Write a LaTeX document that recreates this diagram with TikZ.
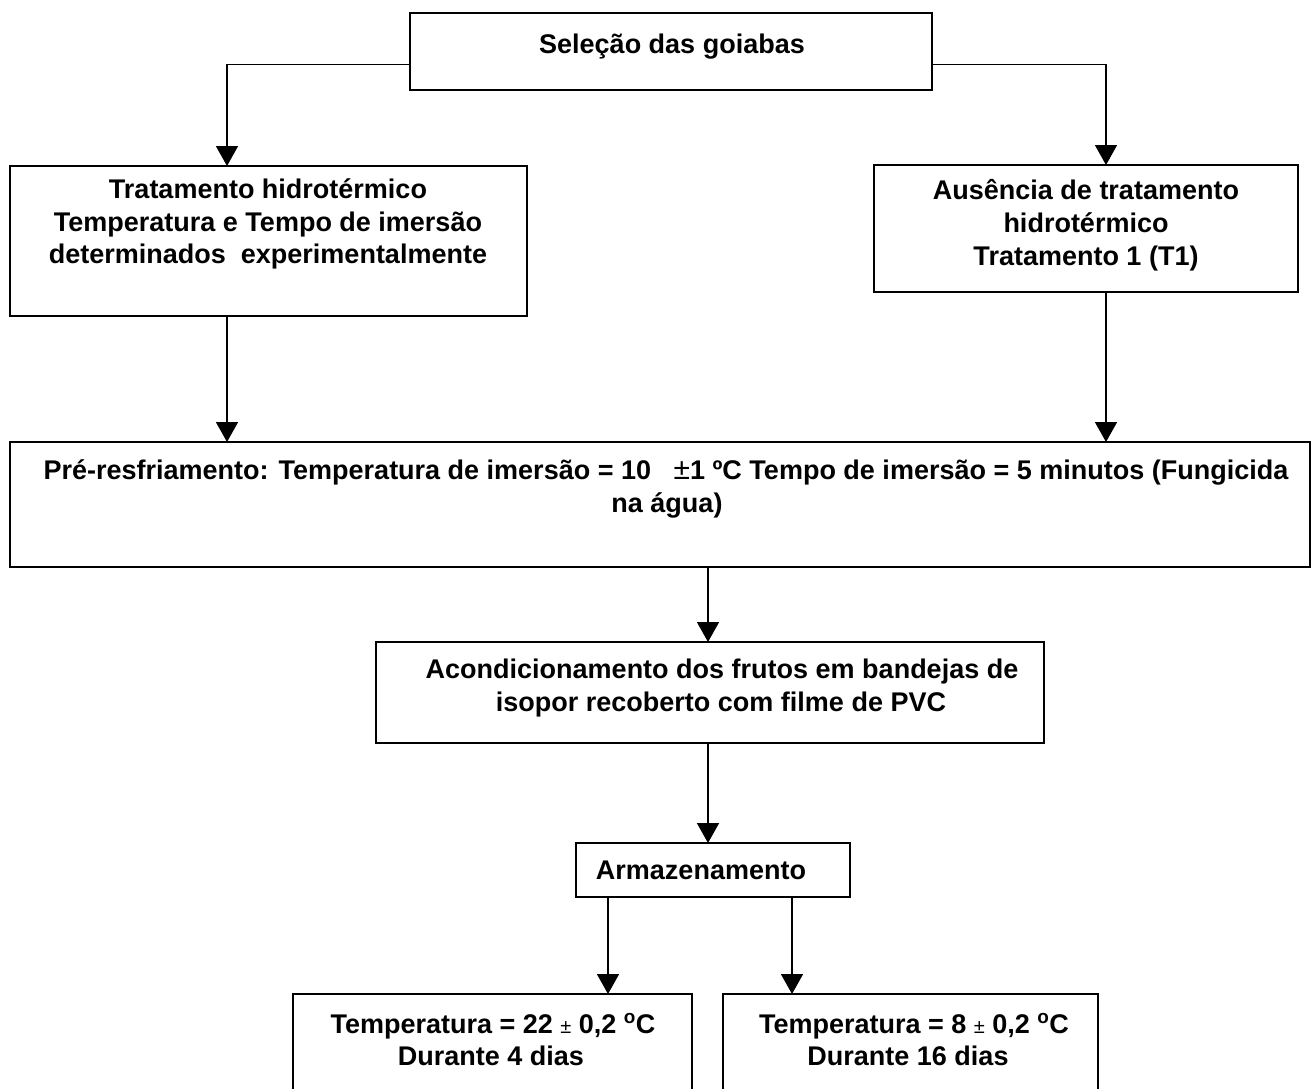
\documentclass[tikz,border=0pt]{standalone}
\usepackage{fontspec}
\setmainfont{Liberation Sans}
\usetikzlibrary{arrows.meta}
\begin{document}
\begin{tikzpicture}[x=1pt,y=-1pt,
  box/.style={draw=black,line width=1.6pt,rectangle,inner sep=0pt,outer sep=0pt,anchor=north west,fill=none},
  txt/.style={anchor=base,inner sep=0pt,font=\fontsize{27pt}{33pt}\selectfont\bfseries},
  arr/.style={line width=1.6pt,-{Triangle[length=20pt,width=22pt]}},
  lnk/.style={line width=1.6pt}]
\fill[white] (0,0) rectangle (1312,1088);
\clip (0,0) rectangle (1312,1088);
\useasboundingbox (0,0) rectangle (1312,1088);
% boxes
\node[box,minimum width=522pt,minimum height=77pt] (sel) at (410,13) {};
\node[box,minimum width=517pt,minimum height=150pt] (trat) at (10,166) {};
\node[box,minimum width=424pt,minimum height=127pt] (aus) at (874,165) {};
\node[box,line width=2.4pt,minimum width=1300pt,minimum height=125pt] (pre) at (10,442) {};
\node[box,minimum width=668pt,minimum height=101pt] (aco) at (376,642) {};
\node[box,minimum width=274pt,minimum height=54pt] (arm) at (576,843) {};
\node[box,minimum width=399pt,minimum height=140pt] (b1) at (293,994) {};
\node[box,minimum width=375pt,minimum height=140pt] (b2) at (723,994) {};
% texts
\node[txt] (tsel) at (672,53) {Seleção das goiabas};
\node[txt] (ttr1) at (268,198) {Tratamento hidrotérmico};
\node[txt] (ttr2) at (268,231) {Temperatura e Tempo de imersão};
\node[txt] (ttr3) at (268,263) {determinados\ \ experimentalmente};
\node[txt] (tau1) at (1086,199) {Ausência de tratamento};
\node[txt] (tau2) at (1086,232) {hidrotérmico};
\node[txt] (tau3) at (1086,265) {Tratamento 1 (T1)};
\node[txt] (tpr1) at (666,479) {Pré-resfriamento: Temperatura de imersão = 10\ \ \ {\mdseries\fontsize{30pt}{33pt}\selectfont ±}1 ºC Tempo de imersão = 5 minutos (Fungicida};
\node[txt] (tpr2) at (667,512) {na água)};
\node[txt] (tac1) at (722,678) {Acondicionamento dos frutos em bandejas de};
\node[txt] (tac2) at (721,711) {isopor recoberto com filme de PVC};
\node[txt] (tarm) at (701,879) {Armazenamento};
\node[txt] (tb11) at (493,1033) {Temperatura = 22 {\mdseries\fontsize{20pt}{20pt}\selectfont ±} 0,2 \textsuperscript{o}C};
\node[txt] (tb12) at (491,1065) {Durante 4 dias};
\node[txt] (tb21) at (914,1033) {Temperatura = 8 {\mdseries\fontsize{20pt}{20pt}\selectfont ±} 0,2 \textsuperscript{o}C};
\node[txt] (tb22) at (908,1065) {Durante 16 dias};
% connectors
\draw[arr] ([yshift=-13pt]sel.west) -| ([xshift=-41.5pt]trat.north);
\draw[arr] ([yshift=-13pt]sel.east) -| ([xshift=20pt]aus.north);
\draw[arr] ([xshift=-41.5pt]trat.south) -- ([xshift=-41.5pt]trat.south |- pre.north);
\draw[arr] ([xshift=20pt]aus.south) -- ([xshift=20pt]aus.south |- pre.north);
\draw[arr] ([xshift=-2pt]aco.north |- pre.south) -- ([xshift=-2pt]aco.north);
\draw[arr] ([xshift=-2pt]aco.south) -- ([xshift=-2pt]aco.south |- arm.north);
\draw[arr] ([xshift=-105pt]arm.south) -- ([xshift=-105pt]arm.south |- b1.north);
\draw[arr] ([xshift=79pt]arm.south) -- ([xshift=79pt]arm.south |- b2.north);
\end{tikzpicture}
\end{document}
